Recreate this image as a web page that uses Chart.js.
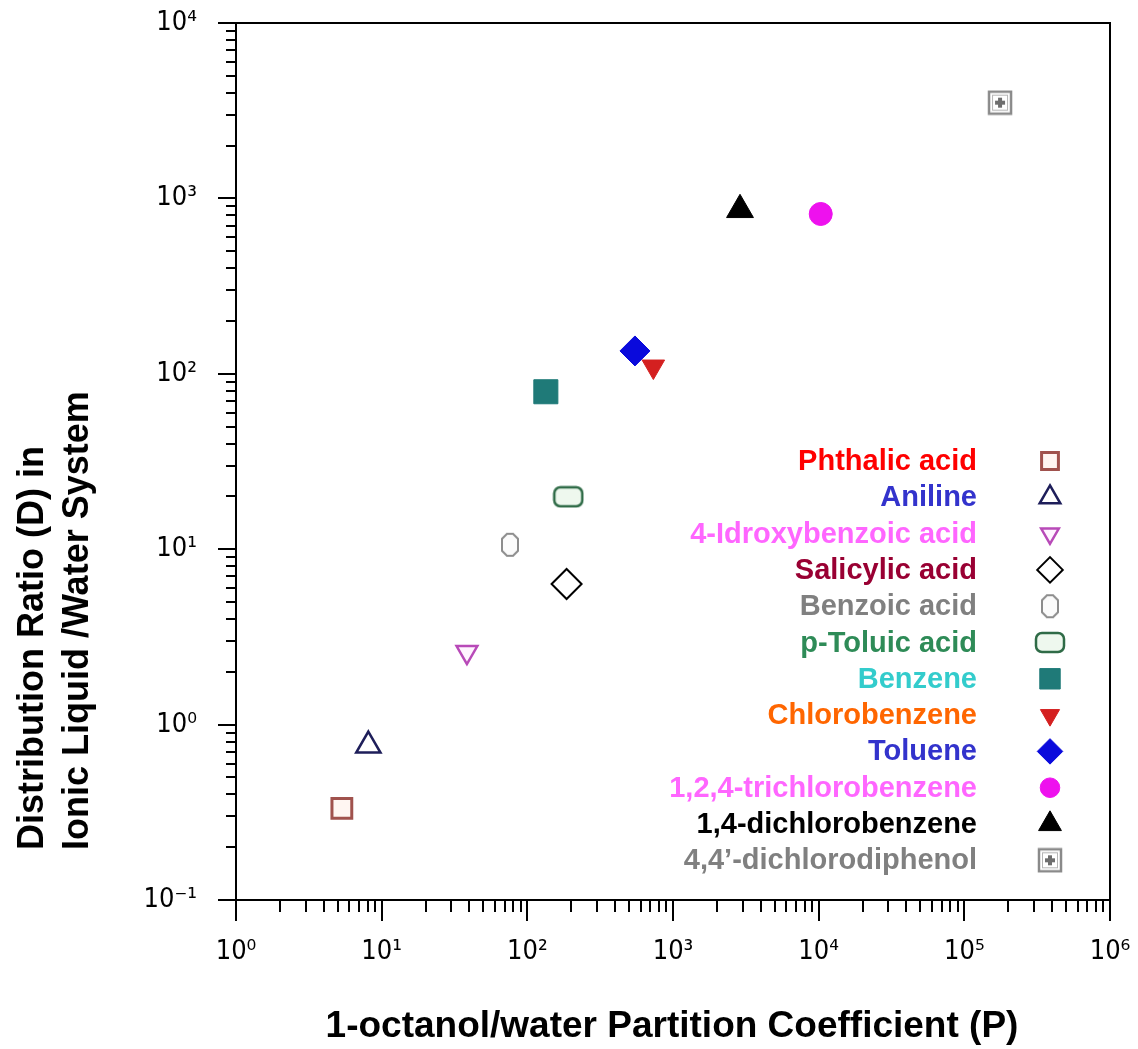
<!DOCTYPE html>
<html>
<head>
<meta charset="utf-8">
<title>Distribution ratio vs. 1-octanol/water partition coefficient</title>
<script src="https://cdn.jsdelivr.net/npm/chart.js@4.4.1/dist/chart.umd.min.js"></script>
<style>
  body { margin: 0; background: #fff; }
  canvas { display: block; }
</style>
</head>
<body>
<canvas id="chart" width="1138" height="1049"></canvas>
<script>
// compounds, in legend order
const compounds = [
  "Phthalic acid", "Aniline", "4-Idroxybenzoic acid", "Salicylic acid",
  "Benzoic acid", "p-Toluic acid", "Benzene", "Chlorobenzene", "Toluene",
  "1,2,4-trichlorobenzene", "1,4-dichlorobenzene", "4,4\u2019-dichlorodiphenol"
];
// 1-octanol/water partition coefficient (P)
const partitionP = [5.33, 8.1, 38.5, 186, 76, 191, 134, 733, 548, 10330, 2884, 175800];
// distribution ratio (D) in ionic liquid / water
const distributionD = [0.333, 0.76, 2.59, 6.33, 10.6, 19.9, 79, 110, 135, 815, 861, 3515];

const xTickValues = [1, 10, 100, 1000, 10000, 100000, 1000000];
const xTickLabels = ["10\u2070", "10\u00b9", "10\u00b2", "10\u00b3", "10\u2074", "10\u2075", "10\u2076"];
const yTickValues = [0.1, 1, 10, 100, 1000, 10000];
const yTickLabels = ["10\u207b\u00b9", "10\u2070", "10\u00b9", "10\u00b2", "10\u00b3", "10\u2074"];

const xTitle = "1-octanol/water Partition Coefficient (P)";
const yTitle = ["Distribution Ratio (D) in", "Ionic Liquid /Water System"];

// legend text colours
const labelColors = [
  "#ff0000", "#3333cc", "#ff66ff", "#990033", "#808080", "#2e8b57",
  "#33cccc", "#ff6600", "#3333cc", "#ff66ff", "#000000", "#808080"
];

// little canvases for the markers Chart.js has no shape for
function makeMarker(w, h, draw) {
  const c = document.createElement("canvas");
  c.width = w;
  c.height = h;
  draw(c.getContext("2d"));
  return c;
}

const benzoicMarker = makeMarker(20, 26, (g) => {
  g.strokeStyle = "#8c8c8c";
  g.lineWidth = 2;
  g.beginPath();
  g.moveTo(7, 2); g.lineTo(13, 2); g.lineTo(18, 7); g.lineTo(18, 19);
  g.lineTo(13, 24); g.lineTo(7, 24); g.lineTo(2, 19); g.lineTo(2, 7);
  g.closePath();
  g.fillStyle = "#fbfbfb";
  g.fill();
  g.stroke();
});

const toluicMarker = makeMarker(32, 23, (g) => {
  g.strokeStyle = "#2f6b47";
  g.fillStyle = "#eef8ee";
  g.lineWidth = 2.5;
  g.beginPath();
  g.roundRect(2, 2, 28, 19, 6);
  g.fill();
  g.stroke();
});

const diphenolMarker = makeMarker(26, 26, (g) => {
  g.strokeStyle = "#8a8a8a";
  g.lineWidth = 2.5;
  g.strokeRect(2, 2, 22, 22);
  g.lineWidth = 1;
  g.strokeStyle = "#b5b5b5";
  g.strokeRect(5.5, 5.5, 15, 15);
  g.fillStyle = "#6e6e6e";
  g.fillRect(11, 8, 4, 10);
  g.fillRect(8, 11, 10, 4);
});

const markerStyles = [
  { pointStyle: "rect", radius: 14, rotation: 0, fill: "#fff6f2", stroke: "#a0524d", bw: 3 },
  { pointStyle: "triangle", radius: 14, rotation: 0, fill: "#ffffff", stroke: "#1e1e5a", bw: 2.5 },
  { pointStyle: "triangle", radius: 12, rotation: 180, fill: "#fff4ff", stroke: "#b84ab8", bw: 2.5 },
  { pointStyle: "rectRot", radius: 15, rotation: 0, fill: "#ffffff", stroke: "#000000", bw: 2 },
  { pointStyle: benzoicMarker, radius: 12, rotation: 0, fill: "#ffffff", stroke: "#8c8c8c", bw: 0 },
  { pointStyle: toluicMarker, radius: 12, rotation: 0, fill: "#ffffff", stroke: "#2f6b47", bw: 0 },
  { pointStyle: "rect", radius: 17, rotation: 0, fill: "#1f7a78", stroke: "#1f7a78", bw: 1 },
  { pointStyle: "triangle", radius: 13, rotation: 180, fill: "#d42020", stroke: "#d42020", bw: 1 },
  { pointStyle: "rectRot", radius: 15, rotation: 0, fill: "#0a0adc", stroke: "#0a0adc", bw: 1 },
  { pointStyle: "circle", radius: 11.5, rotation: 0, fill: "#ee11ee", stroke: "#ee11ee", bw: 1 },
  { pointStyle: "triangle", radius: 15.5, rotation: 0, fill: "#000000", stroke: "#000000", bw: 1 },
  { pointStyle: diphenolMarker, radius: 12, rotation: 0, fill: "#ffffff", stroke: "#8a8a8a", bw: 0 }
];

const datasets = compounds.map((name, i) => ({
  label: name,
  data: [{ x: partitionP[i], y: distributionD[i] }],
  pointStyle: markerStyles[i].pointStyle,
  pointRadius: markerStyles[i].radius,
  pointRotation: markerStyles[i].rotation,
  backgroundColor: markerStyles[i].fill,
  borderColor: markerStyles[i].stroke,
  borderWidth: markerStyles[i].bw
}));

const boldFont = '"Liberation Sans", Arial, Helvetica, sans-serif';
const tickFont = { family: '"DejaVu Sans Condensed", "DejaVu Sans", sans-serif', size: 27 };

// minor log ticks plus the top / right frame
const framePlugin = {
  id: "frame",
  afterDraw(chart) {
    const { ctx, chartArea: a, scales: { x, y } } = chart;
    ctx.save();
    ctx.strokeStyle = "#000";
    ctx.lineWidth = 2;
    ctx.beginPath();
    for (let e = 0; e < 6; e++) {
      for (let m = 2; m < 10; m++) {
        const px = Math.round(x.getPixelForValue(m * Math.pow(10, e)));
        ctx.moveTo(px, a.bottom);
        ctx.lineTo(px, a.bottom + 12);
      }
    }
    for (let e = -1; e < 4; e++) {
      for (let m = 2; m < 10; m++) {
        const py = Math.round(y.getPixelForValue(m * Math.pow(10, e)));
        ctx.moveTo(a.left, py);
        ctx.lineTo(a.left - 10, py);
      }
    }
    ctx.moveTo(a.left, a.top);
    ctx.lineTo(a.right, a.top);
    ctx.lineTo(a.right, a.bottom);
    ctx.stroke();
    ctx.restore();
  }
};

// axis titles
const titlePlugin = {
  id: "titles",
  afterDraw(chart) {
    const ctx = chart.ctx;
    ctx.save();
    ctx.fillStyle = "#000";
    ctx.textBaseline = "alphabetic";
    ctx.font = "bold 37px " + boldFont;
    ctx.textAlign = "center";
    ctx.fillText(xTitle, 672, 1037);
    ctx.font = "bold 36px " + boldFont;
    ctx.textAlign = "left";
    yTitle.forEach((line, i) => {
      ctx.save();
      ctx.translate(43 + i * 45, 850);
      ctx.rotate(-Math.PI / 2);
      ctx.fillText(line, 0, 0);
      ctx.restore();
    });
    ctx.restore();
  }
};

// legend inside the plot: coloured names right-aligned, marker to the right
const legendPlugin = {
  id: "sideLegend",
  afterDatasetsDraw(chart) {
    const ctx = chart.ctx;
    ctx.save();
    ctx.font = "bold 29px " + boldFont;
    ctx.textAlign = "right";
    ctx.textBaseline = "middle";
    chart.data.datasets.forEach((ds, i) => {
      const y = 461 + i * 36.3;
      ctx.fillStyle = labelColors[i];
      ctx.fillText(ds.label, 977, y + 1);
      ctx.fillStyle = ds.backgroundColor;
      ctx.strokeStyle = ds.borderColor;
      ctx.lineWidth = ds.borderWidth;
      Chart.helpers.drawPoint(ctx, {
        pointStyle: ds.pointStyle,
        rotation: ds.pointRotation,
        radius: ds.pointRadius * 0.85,
        borderWidth: ds.borderWidth
      }, 1050, y);
    });
    ctx.restore();
  }
};

new Chart(document.getElementById("chart"), {
  type: "scatter",
  data: { datasets },
  options: {
    responsive: false,
    animation: false,
    events: [],
    layout: { padding: { top: 23, right: 28, left: 0, bottom: 0 } },
    plugins: { legend: { display: false }, tooltip: { enabled: false } },
    scales: {
      x: {
        type: "logarithmic",
        min: 1,
        max: 1000000,
        afterBuildTicks: (s) => { s.ticks = xTickValues.map((v) => ({ value: v })); },
        afterFit: (s) => { s.height = 149; s.paddingLeft = 0; s.paddingRight = 0; },
        grid: { drawOnChartArea: false, drawTicks: true, tickLength: 21, color: "#000", lineWidth: 2 },
        border: { display: true, color: "#000", width: 2 },
        ticks: {
          autoSkip: false, maxRotation: 0, padding: 15, color: "#000", font: tickFont,
          callback: (v, i) => xTickLabels[i]
        }
      },
      y: {
        type: "logarithmic",
        min: 0.1,
        max: 10000,
        afterBuildTicks: (s) => { s.ticks = yTickValues.map((v) => ({ value: v })); },
        afterFit: (s) => { s.width = 236; s.paddingTop = 0; s.paddingBottom = 0; },
        grid: { drawOnChartArea: false, drawTicks: true, tickLength: 18, color: "#000", lineWidth: 2 },
        border: { display: true, color: "#000", width: 2 },
        ticks: {
          autoSkip: false, padding: 21, color: "#000", font: tickFont,
          callback: (v, i) => yTickLabels[i]
        }
      }
    }
  },
  plugins: [framePlugin, titlePlugin, legendPlugin]
});
</script>
</body>
</html>
